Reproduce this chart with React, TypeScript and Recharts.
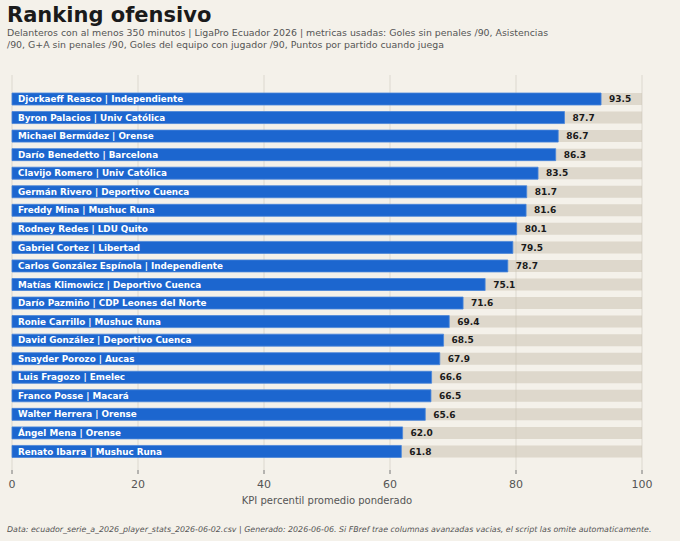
import React from 'react';
import { Bar, BarChart, CartesianGrid, LabelList, XAxis, YAxis } from 'recharts';

const players = [
  'Djorkaeff Reasco | Independiente',
  'Byron Palacios | Univ Católica',
  'Michael Bermúdez | Orense',
  'Darío Benedetto | Barcelona',
  'Clavijo Romero | Univ Católica',
  'Germán Rivero | Deportivo Cuenca',
  'Freddy Mina | Mushuc Runa',
  'Rodney Redes | LDU Quito',
  'Gabriel Cortez | Libertad',
  'Carlos González Espínola | Independiente',
  'Matías Klimowicz | Deportivo Cuenca',
  'Darío Pazmiño | CDP Leones del Norte',
  'Ronie Carrillo | Mushuc Runa',
  'David González | Deportivo Cuenca',
  'Snayder Porozo | Aucas',
  'Luis Fragozo | Emelec',
  'Franco Posse | Macará',
  'Walter Herrera | Orense',
  'Ángel Mena | Orense',
  'Renato Ibarra | Mushuc Runa',
];

const kpi = [
  93.5, 87.7, 86.7, 86.3, 83.5, 81.7, 81.6, 80.1, 79.5, 78.7, 75.1, 71.6, 69.4, 68.5, 67.9, 66.6,
  66.5, 65.6, 62.0, 61.8,
];

const xTicks = [0, 20, 40, 60, 80, 100];

const data = players.map((name, i) => ({ name, kpi: kpi[i] }));

const FONT = '"DejaVu Sans", sans-serif';

export default function App() {
  return (
    <div
      style={{
        position: 'fixed',
        left: 0,
        top: 0,
        width: 680,
        height: 541,
        background: '#f4f1ea',
        fontFamily: FONT,
        overflow: 'hidden',
      }}
    >
      <div
        style={{
          position: 'absolute',
          left: 7,
          top: 3,
          fontSize: 21,
          fontWeight: 'bold',
          color: '#1a1a1a',
        }}
      >
        Ranking ofensivo
      </div>
      <div
        style={{
          position: 'absolute',
          left: 7,
          top: 27,
          fontSize: 9.4,
          lineHeight: '12px',
          color: '#555',
          whiteSpace: 'nowrap',
        }}
      >
        Delanteros con al menos 350 minutos | LigaPro Ecuador 2026 | metricas usadas: Goles sin
        penales /90, Asistencias
        <br />
        /90, G+A sin penales /90, Goles del equipo con jugador /90, Puntos por partido cuando juega
      </div>
      <div style={{ position: 'absolute', left: 0, top: 0 }}>
        <BarChart
          width={680}
          height={541}
          data={data}
          layout="vertical"
          margin={{ top: 75, right: 38, bottom: 37, left: 12 }}
          barSize={12}
        >
          <CartesianGrid horizontal={false} stroke="#dcd8cf" strokeWidth={1} />
          <XAxis
            type="number"
            domain={[0, 100]}
            ticks={xTicks}
            height={34}
            axisLine={false}
            tickSize={4}
            tickMargin={6}
            tickLine={{ stroke: '#777' }}
            tick={{ fontSize: 11, fill: '#555', fontFamily: FONT }}
            label={{
              value: 'KPI percentil promedio ponderado',
              position: 'insideBottom',
              offset: 0,
              fontSize: 10,
              fill: '#555',
              fontFamily: FONT,
            }}
          />
          <YAxis type="category" dataKey="name" hide padding={{ top: 15, bottom: 9 }} />
          <Bar
            dataKey="kpi"
            fill="#1c66cf"
            stroke="#4a86da"
            strokeWidth={0.8}
            background={{ fill: '#c8bfae', fillOpacity: 0.5 }}
            isAnimationActive={false}
          >
            <LabelList
              dataKey="name"
              position="insideLeft"
              offset={6}
              fill="#ffffff"
              fontSize={8.8}
              fontWeight="bold"
              fontFamily={FONT}
            />
            <LabelList
              dataKey="kpi"
              position="right"
              offset={8}
              fill="#1a1a1a"
              fontSize={9}
              fontWeight="bold"
              fontFamily={FONT}
              formatter={(v: number) => v.toFixed(1)}
            />
          </Bar>
        </BarChart>
      </div>
      <div
        style={{
          position: 'absolute',
          left: 7,
          top: 525,
          fontSize: 7.9,
          fontStyle: 'italic',
          color: '#555',
          whiteSpace: 'nowrap',
        }}
      >
        Data: ecuador_serie_a_2026_player_stats_2026-06-02.csv | Generado: 2026-06-06. Si FBref trae
        columnas avanzadas vacias, el script las omite automaticamente.
      </div>
    </div>
  );
}
